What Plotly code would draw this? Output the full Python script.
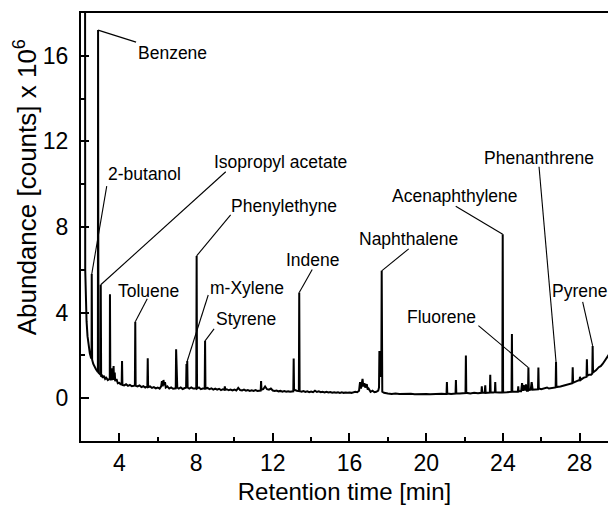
import plotly.graph_objects as go

# ---- Chromatogram (total ion current) ----
rt_min = [
    2.00, 2.20, 2.22, 2.25, 2.29, 2.34, 2.40, 2.46, 2.52, 2.55, 2.56, 2.58, 2.64, 2.70, 2.78, 2.86,
    2.88, 2.89, 2.91, 2.96, 3.00, 3.02, 3.03, 3.05, 3.10, 3.15, 3.20, 3.26, 3.32, 3.40, 3.48, 3.50,
    3.51, 3.53, 3.58, 3.60, 3.62, 3.66, 3.70, 3.72, 3.76, 3.78, 3.85, 3.92, 4.00, 4.06, 4.12, 4.14,
    4.16, 4.25, 4.35, 4.45, 4.55, 4.65, 4.75, 4.81, 4.83, 4.85, 4.95, 5.05, 5.15, 5.25, 5.35, 5.46,
    5.48, 5.50, 5.60, 5.70, 5.80, 5.90, 6.00, 6.10, 6.18, 6.22, 6.26, 6.30, 6.34, 6.38, 6.42, 6.50,
    6.60, 6.70, 6.80, 6.90, 6.94, 6.96, 6.98, 7.00, 7.02, 7.10, 7.20, 7.30, 7.40, 7.48, 7.50, 7.52,
    7.54, 7.56, 7.65, 7.75, 7.85, 8.01, 8.03, 8.05, 8.15, 8.25, 8.35, 8.45, 8.47, 8.49, 8.60, 8.70,
    8.80, 8.90, 9.00, 9.10, 9.20, 9.30, 9.40, 9.48, 9.50, 9.52, 9.60, 9.70, 9.80, 9.90, 10.00, 10.10,
    10.20, 10.30, 10.40, 10.50, 10.60, 10.70, 10.80, 10.90, 11.00, 11.10, 11.20, 11.30, 11.37, 11.39, 11.41, 11.50,
    11.60, 11.70, 11.80, 11.90, 12.00, 12.10, 12.20, 12.30, 12.40, 12.50, 12.60, 12.70, 12.80, 12.90, 13.00, 13.07,
    13.09, 13.11, 13.25, 13.36, 13.38, 13.40, 13.50, 13.60, 13.70, 13.80, 13.90, 14.00, 14.10, 14.20, 14.30, 14.40,
    14.50, 14.60, 14.70, 14.80, 14.90, 15.00, 15.10, 15.20, 15.30, 15.40, 15.50, 15.60, 15.70, 15.80, 15.90, 16.00,
    16.10, 16.20, 16.30, 16.40, 16.50, 16.55, 16.60, 16.68, 16.72, 16.78, 16.82, 16.90, 16.95, 17.00, 17.10, 17.20,
    17.30, 17.40, 17.50, 17.54, 17.56, 17.60, 17.66, 17.68, 17.71, 17.80, 17.90, 18.00, 18.20, 18.40, 18.60, 18.80,
    19.00, 19.20, 19.40, 19.60, 19.80, 20.00, 20.20, 20.40, 20.60, 20.80, 21.00, 21.06, 21.08, 21.10, 21.30, 21.45,
    21.53, 21.55, 21.57, 21.75, 21.90, 22.05, 22.07, 22.09, 22.30, 22.50, 22.70, 22.88, 22.90, 22.92, 23.05, 23.08,
    23.10, 23.20, 23.32, 23.34, 23.36, 23.50, 23.58, 23.60, 23.62, 23.80, 23.97, 23.99, 24.01, 24.20, 24.30, 24.45,
    24.47, 24.49, 24.60, 24.78, 24.80, 24.82, 24.95, 25.00, 25.05, 25.12, 25.16, 25.20, 25.25, 25.31, 25.33, 25.35,
    25.45, 25.50, 25.55, 25.70, 25.83, 25.85, 25.87, 26.00, 26.20, 26.30, 26.40, 26.60, 26.75, 26.77, 26.79, 27.00,
    27.20, 27.40, 27.62, 27.64, 27.66, 27.85, 28.00, 28.02, 28.05, 28.20, 28.36, 28.38, 28.40, 28.50, 28.60, 28.66,
    28.68, 28.70, 28.85, 29.00, 29.10, 29.20, 29.35, 29.50, 29.60,
]
abundance_1e6 = [
    40.0, 40.0, 6.0, 4.6, 3.6, 2.9, 2.4, 2.1, 1.9, 1.85, 5.8, 1.8, 1.6, 1.45, 1.35, 1.25,
    1.25, 17.2, 1.2, 1.15, 1.1, 1.1, 5.3, 1.0, 1.05, 0.95, 1.05, 0.9, 0.95, 0.85, 0.9, 0.9,
    4.86, 0.85, 0.9, 1.4, 0.85, 1.0, 1.5, 0.85, 1.2, 0.8, 0.9, 0.7, 0.72, 0.65, 0.65, 1.74,
    0.62, 0.6, 0.65, 0.58, 0.62, 0.56, 0.58, 0.6, 3.57, 0.58, 0.55, 0.6, 0.52, 0.56, 0.5, 0.55,
    1.87, 0.52, 0.55, 0.48, 0.52, 0.46, 0.5, 0.45, 0.55, 0.8, 0.55, 0.85, 0.6, 0.75, 0.5, 0.55,
    0.45, 0.5, 0.44, 0.46, 0.46, 2.29, 0.7, 2.15, 0.5, 0.45, 0.5, 0.43, 0.46, 0.5, 1.6, 0.8,
    1.74, 0.5, 0.45, 0.5, 0.45, 0.45, 6.65, 0.45, 0.5, 0.42, 0.45, 0.45, 2.68, 0.45, 0.48, 0.42,
    0.46, 0.4, 0.45, 0.4, 0.44, 0.38, 0.42, 0.4, 0.55, 0.4, 0.42, 0.37, 0.4, 0.36, 0.4, 0.36,
    0.48, 0.38, 0.36, 0.4, 0.35, 0.38, 0.34, 0.37, 0.34, 0.38, 0.34, 0.36, 0.36, 0.8, 0.4, 0.42,
    0.55, 0.42, 0.4, 0.45, 0.36, 0.34, 0.36, 0.32, 0.34, 0.3, 0.33, 0.3, 0.32, 0.3, 0.32, 0.32,
    1.86, 0.4, 0.35, 0.33, 4.94, 0.33, 0.3, 0.33, 0.29, 0.32, 0.28, 0.31, 0.28, 0.35, 0.29, 0.32,
    0.28, 0.3, 0.27, 0.3, 0.27, 0.29, 0.26, 0.28, 0.26, 0.28, 0.25, 0.28, 0.25, 0.27, 0.25, 0.27,
    0.25, 0.27, 0.3, 0.28, 0.35, 0.75, 0.45, 0.9, 0.55, 0.7, 0.5, 0.65, 0.4, 0.45, 0.3, 0.35,
    0.28, 0.3, 0.35, 0.5, 2.2, 1.0, 1.2, 5.95, 0.3, 0.25, 0.22, 0.22, 0.2, 0.22, 0.2, 0.21,
    0.19, 0.21, 0.19, 0.2, 0.18, 0.2, 0.18, 0.2, 0.19, 0.21, 0.2, 0.2, 0.76, 0.22, 0.2, 0.22,
    0.22, 0.85, 0.22, 0.22, 0.24, 0.24, 2.0, 0.25, 0.22, 0.25, 0.23, 0.25, 0.55, 0.25, 0.25, 0.6,
    0.25, 0.27, 0.26, 1.1, 0.28, 0.27, 0.28, 0.75, 0.28, 0.27, 0.27, 7.66, 0.27, 0.28, 0.3, 0.3,
    3.0, 0.3, 0.3, 0.3, 0.55, 0.32, 0.32, 0.7, 0.35, 0.6, 0.35, 0.65, 0.35, 0.35, 1.43, 0.38,
    0.4, 0.75, 0.4, 0.4, 0.42, 1.43, 0.45, 0.42, 0.45, 0.5, 0.45, 0.48, 0.5, 1.7, 0.52, 0.55,
    0.6, 0.65, 0.7, 1.45, 0.72, 0.8, 0.85, 1.0, 0.85, 0.95, 1.0, 1.82, 1.05, 1.1, 1.1, 1.15,
    2.44, 1.2, 1.3, 1.45, 1.5, 1.6, 1.78, 2.0, 2.15,
]

# ---- Identified compounds (retention time of the labelled peak) ----
compound_names = [
    "Benzene", "2-butanol", "Isopropyl acetate", "Toluene", "m-Xylene", "Phenylethyne",
    "Styrene", "Indene", "Naphthalene", "Acenaphthylene", "Phenanthrene", "Fluorene", "Pyrene",
]
compound_rt = [2.89, 2.56, 3.03, 4.83, 7.54, 8.03, 8.47, 13.38, 17.68, 23.99, 26.77, 25.33, 28.68]

# leader-line end (px from peak apex, +y up) and label offset (px from apex)
leader_dx = [38, 15, 125, 12, 21, 34, 9, 13, 27, -47, -17, -50, -10]
leader_dy = [-12, 88, 113, 23, 66, 41, 12, 23, 22, 28, 195, 42, 44]
label_dx = [74, 53, 180, 13, 60, 87, 41, 14, 27, -48, -17, -87, -13]
label_dy = [-23, 100, 123, 31, 73, 50, 22, 32, 32, 38, 204, 51, 55]

FONT = "Liberation Sans, Arial, sans-serif"

fig = go.Figure()
fig.add_trace(go.Scatter(
    x=rt_min, y=abundance_1e6, mode="lines",
    line=dict(color="black", width=2),
    hoverinfo="skip", showlegend=False,
))

apex = dict(zip(rt_min, abundance_1e6))
for i, name in enumerate(compound_names):
    t = compound_rt[i]
    top = apex[t]
    fig.add_shape(
        type="line", xref="x", yref="y",
        xsizemode="pixel", ysizemode="pixel",
        xanchor=t, yanchor=top,
        x0=0, y0=0, x1=leader_dx[i], y1=leader_dy[i],
        line=dict(color="black", width=1.1),
    )
    fig.add_annotation(
        x=t, y=top, xref="x", yref="y", text=name, showarrow=False,
        xshift=label_dx[i], yshift=label_dy[i],
        font=dict(family=FONT, size=17.5, color="black"),
    )

# vertical axis title
fig.add_annotation(
    xref="paper", yref="paper", x=-0.106, y=0.593,
    xanchor="center", yanchor="middle",
    text="Abundance [counts] x 10<sup>6</sup>", textangle=-90, showarrow=False,
    font=dict(family=FONT, size=26, color="black"),
)

axis_common = dict(
    showline=True, linecolor="black", linewidth=2,
    ticks="inside", ticklen=8, tickwidth=1.8, tickcolor="black",
    showgrid=False, zeroline=False,
    tickfont=dict(family=FONT, size=23, color="black"),
)

fig.update_xaxes(
    **axis_common, range=[2, 29.48], tick0=0, dtick=4, mirror=True,
    minor=dict(ticks="inside", ticklen=4, tickwidth=1.5, tickcolor="black", tick0=0, dtick=2),
    title=dict(text="Retention time [min]", font=dict(family=FONT, size=24, color="black"), standoff=9),
)
fig.update_yaxes(
    **axis_common, range=[-2, 18], tick0=0, dtick=4, ticklabelstandoff=6,
    minor=dict(ticks="inside", ticklen=4, tickwidth=1.5, tickcolor="black", tick0=0, dtick=2),
)

fig.update_layout(
    width=608, height=508,
    margin=dict(l=81, r=0, t=13, b=67),
    plot_bgcolor="white", paper_bgcolor="white",
)

fig.write_html("out.html")
